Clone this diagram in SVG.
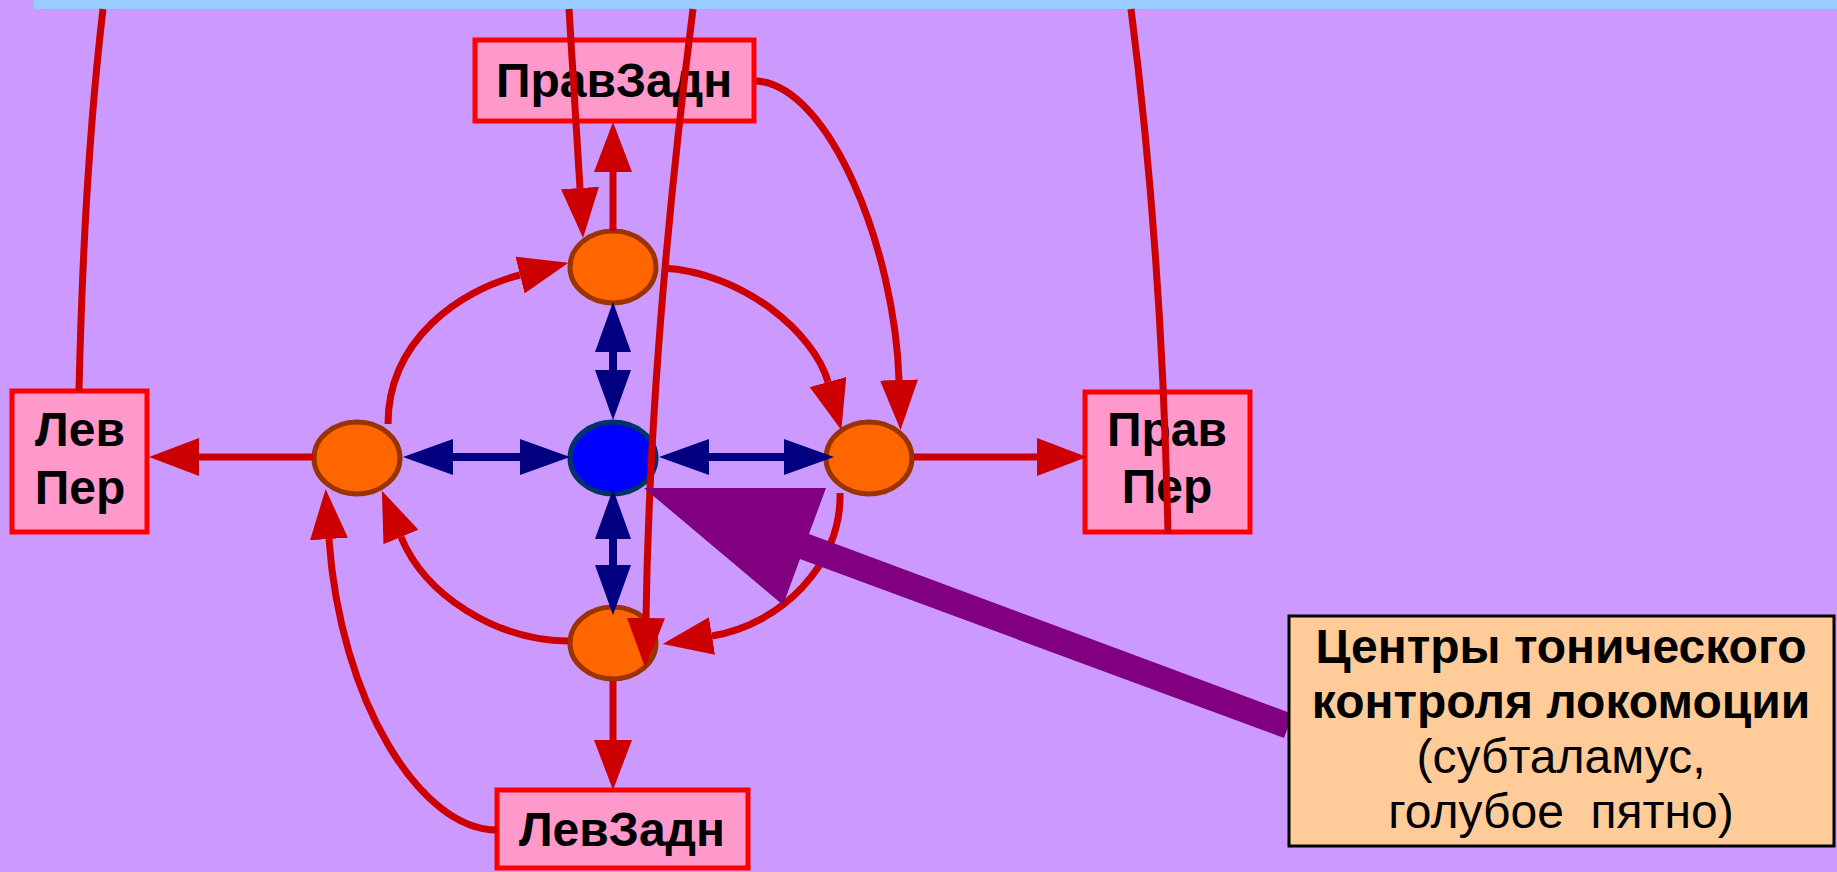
<svg xmlns="http://www.w3.org/2000/svg" width="1837" height="872" viewBox="0 0 1837 872">
<defs>
<style>
.box{fill:#FF99CC;stroke:#FF0000;stroke-width:5}
.lbl{font-family:"Liberation Sans",Arial,sans-serif;font-weight:bold;font-size:48px;fill:#000;text-anchor:middle}
.node{fill:#FF6600;stroke:#993300;stroke-width:5}
.red{fill:none;stroke:#CC0000;stroke-width:7}
.navy{fill:none;stroke:#000080;stroke-width:8}
.ctxt{font-family:"Liberation Sans",Arial,sans-serif;font-size:48px;fill:#000;text-anchor:middle}
</style>
<marker id="ar" viewBox="0 0 50 38" refX="0" refY="19" markerWidth="50" markerHeight="38" markerUnits="userSpaceOnUse" orient="auto">
<path d="M0,0 L50,19 L0,38 z" fill="#CC0000"/>
</marker>
<marker id="an" viewBox="0 0 50 36" refX="0" refY="18" markerWidth="50" markerHeight="36" markerUnits="userSpaceOnUse" orient="auto-start-reverse">
<path d="M0,0 L50,18 L0,36 z" fill="#000080"/>
</marker>
</defs>
<rect x="0" y="0" width="1837" height="872" fill="#CC99FF"/>
<rect x="34" y="0" width="1803" height="9" fill="#99CCFF"/>

<g id="pravzadn"><rect class="box" x="475" y="40" width="279" height="81"/><text class="lbl" x="614" y="97">ПравЗадн</text></g>
<g id="levper"><rect class="box" x="12" y="391" width="135" height="141"/><text class="lbl" x="80" y="446">Лев</text><text class="lbl" x="80" y="504">Пер</text></g>
<g id="pravper"><rect class="box" x="1085" y="392" width="165" height="140"/><text class="lbl" x="1167" y="446">Прав</text><text class="lbl" x="1167" y="503">Пер</text></g>
<g id="levzadn"><rect class="box" x="497" y="790" width="251" height="78"/><text class="lbl" x="622" y="846">ЛевЗадн</text></g>

<g id="n-top"><ellipse class="node" cx="613" cy="267" rx="43" ry="36"/></g>
<g id="n-left"><ellipse class="node" cx="357" cy="458" rx="43" ry="36"/></g>
<g id="n-right"><ellipse class="node" cx="869" cy="458" rx="43" ry="36"/></g>
<g id="n-bottom"><ellipse class="node" cx="613" cy="643" rx="43" ry="36"/></g>
<g id="n-center"><ellipse cx="613" cy="458" rx="43" ry="36" fill="#0000FF" stroke="#003366" stroke-width="5"/></g>

<g id="connectors">
<path class="red" d="M103,9 Q84,170 79,391"/>
<path class="red" d="M1131,9 Q1162,250 1168,534"/>
<path class="red" d="M569,9 L580,188" marker-end="url(#ar)"/>
<path class="red" d="M613,231 L613,172" marker-end="url(#ar)"/>
<path class="red" d="M693,9 Q650,350 646,618" marker-end="url(#ar)"/>
<path class="red" d="M756,81 C830,85 895,250 899,380" marker-end="url(#ar)"/>
<path class="red" d="M662,268 C745,272 815,335 828,382" marker-end="url(#ar)"/>
<path class="red" d="M840,493 C842,565 780,625 712,636" marker-end="url(#ar)"/>
<path class="red" d="M568,641 C495,640 425,595 401,537" marker-end="url(#ar)"/>
<path class="red" d="M388,424 C388,340 460,290 520,275" marker-end="url(#ar)"/>
<path class="red" d="M497,830 C420,830 340,700 329,539" marker-end="url(#ar)"/>
<path class="red" d="M313,457 L199,457" marker-end="url(#ar)"/>
<path class="red" d="M914,457 L1037,457" marker-end="url(#ar)"/>
<path class="red" d="M613,681 L613,740" marker-end="url(#ar)"/>
<path class="navy" d="M453,457 L520,457" marker-start="url(#an)" marker-end="url(#an)"/>
<path class="navy" d="M709,457 L784,457" marker-start="url(#an)" marker-end="url(#an)"/>
<path class="navy" d="M613,352 L613,370" marker-start="url(#an)" marker-end="url(#an)"/>
<path class="navy" d="M613,539 L613,565" marker-start="url(#an)" marker-end="url(#an)"/>
<polygon points="644,488 826,488 809,534 1293,714 1284,738 800,559 783,605" fill="#800080"/>
</g>

<g id="callout">
<rect x="1289" y="616" width="545" height="230" fill="#FFCC99" stroke="#000" stroke-width="3"/>
<text class="ctxt" x="1561" y="663" font-weight="bold">Центры тонического</text>
<text class="ctxt" x="1561" y="718" font-weight="bold">контроля локомоции</text>
<text class="ctxt" x="1561" y="773">(субталамус,</text>
<text class="ctxt" x="1561" y="828" xml:space="preserve">голубое  пятно)</text>
</g>
</svg>
